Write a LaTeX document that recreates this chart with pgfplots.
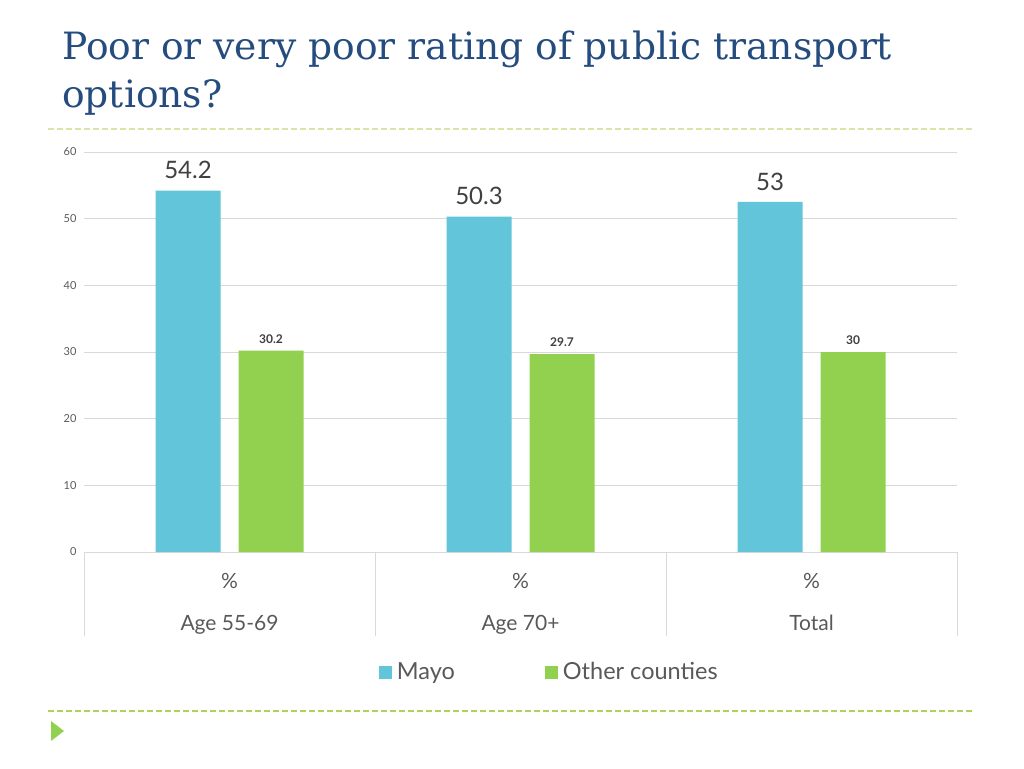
\documentclass[border=0pt]{standalone}
\usepackage{pgfplots}
\pgfplotsset{compat=1.18}
\usepackage{fontspec}
\setmainfont{Lato}
\newfontfamily\titlefont{DejaVu Serif}
\definecolor{mayo}{HTML}{63C5DA}
\definecolor{other}{HTML}{92D050}
\definecolor{titleblue}{HTML}{254C7E}
\definecolor{labgray}{HTML}{404040}
\definecolor{catgray}{HTML}{595959}
\definecolor{gridgray}{HTML}{D9D9D9}
\definecolor{dashtop}{HTML}{DCE2A8}
\definecolor{dashbot}{HTML}{B0D25A}
\begin{document}
\begin{tikzpicture}[x=1pt,y=1pt]
\fill[white] (0,0) rectangle (1024,768);
% title
\node[anchor=base west, inner sep=0, text=titleblue, font=\titlefont\fontsize{37.6}{48}\selectfont] at (62,708) {Poor or very poor rating of public transport};
\node[anchor=base west, inner sep=0, text=titleblue, font=\titlefont\fontsize{37.6}{48}\selectfont] at (62,660) {options?};
% dashed rules
\draw[dashtop, line width=1.2pt, dash pattern=on 6pt off 3pt] (48,639) -- (972,639);
\draw[dashbot, line width=1.2pt, dash pattern=on 6pt off 3pt] (48,57) -- (972,57);
\fill[other] (51,47) -- (64,37) -- (51,27) -- cycle;
\begin{axis}[
  at={(84pt,216pt)}, anchor=south west,
  scale only axis, width=873pt, height=400pt,
  xmin=-0.5, xmax=2.5, ymin=0, ymax=60,
  ybar=0pt, bar width=65pt,
  axis line style={draw=none},
  xtick pos=bottom, ytick pos=left,
  ytick={0,10,...,60},
  ymajorgrids, grid style={gridgray, line width=0.8pt},
  major tick length=0pt,
  yticklabel style={font=\fontsize{11}{12}\selectfont, text=catgray, xshift=-4pt},
  /pgf/number format/assume math mode=true,
  xtick={0,1,2},
  xticklabels={{\%\\Age 55-69},{\%\\Age 70+},{\%\\Total}},
  xticklabel style={align=center, font=\fontsize{21}{42}\selectfont, text=catgray, yshift=-18pt},
  extra x ticks={-0.5,0.5,1.5,2.5},
  extra x tick labels={},
  extra x tick style={major tick length=84pt, tick align=outside, tick style={gridgray, line width=0.8pt}, grid=none},
  legend columns=2,
  legend style={draw=none, fill=none, at={(0.533,-0.30)}, anchor=center,
     font=\fontsize{23.5}{25}\selectfont, text=catgray,
     /tikz/every odd column/.append style={column sep=3pt},
     /tikz/every even column/.append style={column sep=88pt}},
  legend image code/.code={\fill[#1] (0pt,-6.5pt) rectangle (13pt,6.5pt);},
]
\draw[gridgray, line width=0.8pt] (axis cs:-0.5,0) -- (axis cs:2.5,0);
\addplot[fill=mayo, draw=none, bar shift=-41.5pt,
  nodes near coords, point meta=explicit symbolic,
  every node near coord/.append style={font=\fontsize{24}{26}\selectfont, text=labgray, yshift=8pt}]
  table[meta=label] {
x y label
0 54.2 54.2
1 50.3 50.3
2 52.5 53
};
\addplot[fill=other, draw=none, bar shift=41.5pt,
  nodes near coords, point meta=explicit symbolic,
  every node near coord/.append style={font=\bfseries\fontsize{12}{14}\selectfont, text=labgray, yshift=4pt}]
  table[meta=label] {
x y label
0 30.2 30.2
1 29.7 29.7
2 30.0 30
};
\legend{Mayo, Other counties}
\end{axis}
\end{tikzpicture}
\end{document}
